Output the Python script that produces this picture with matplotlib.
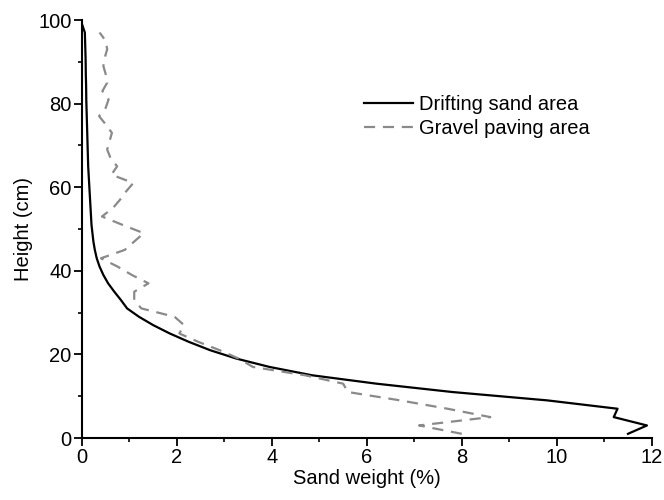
import matplotlib
matplotlib.use("Agg")
import matplotlib.pyplot as plt
from matplotlib.ticker import MultipleLocator

plt.rcParams['font.family'] = ['Liberation Sans', 'DejaVu Sans']

# heights (cm)
drift_height = [1, 3, 5, 7, 9, 11, 13, 15, 17, 19, 21, 23, 25, 27, 29, 31, 33, 35,
                37, 39, 41, 43, 45, 47, 49, 51, 53, 55, 57, 59, 61, 63, 65, 67, 69,
                71, 73, 75, 77, 79, 81, 83, 85, 87, 89, 91, 93, 95, 97, 99]
drift_weight = [11.5, 11.9, 11.2, 11.28, 9.8, 7.8, 6.2, 4.85, 3.95, 3.25, 2.7, 2.25,
                1.85, 1.5, 1.2, 0.95, 0.82, 0.68, 0.55, 0.45, 0.37, 0.31, 0.27, 0.24,
                0.22, 0.2, 0.19, 0.18, 0.17, 0.16, 0.15, 0.14, 0.13, 0.125, 0.12,
                0.115, 0.11, 0.105, 0.1, 0.095, 0.09, 0.088, 0.085, 0.08, 0.078,
                0.075, 0.07, 0.065, 0.06, 0.0]

gravel_height = [1, 3, 5, 7, 9, 11, 13, 15, 17, 19, 21, 23, 25, 27, 29, 31, 33, 35,
                 37, 39, 41, 43, 45, 47, 49, 51, 53, 55, 57, 59, 61, 63, 65, 67, 69,
                 71, 73, 75, 77, 79, 81, 83, 85, 87, 89, 91, 93, 95, 97]
gravel_weight = [8.0, 7.1, 8.6, 7.7, 6.7, 5.6, 5.5, 4.7, 3.6, 3.3, 2.9, 2.45, 2.05,
                 2.15, 1.95, 1.25, 1.1, 1.1, 1.4, 1.05, 0.75, 0.4, 0.9, 1.1, 1.3,
                 0.85, 0.42, 0.65, 0.8, 0.93, 1.08, 0.62, 0.74, 0.6, 0.53, 0.58, 0.63,
                 0.5, 0.36, 0.5, 0.56, 0.43, 0.53, 0.5, 0.45, 0.48, 0.53, 0.5, 0.37]

fig = plt.figure(figsize=(6.64, 5.0), dpi=100)
ax = fig.add_axes([0.1235, 0.124, 0.858, 0.836])

ax.plot(drift_weight, drift_height, color='black', linewidth=1.6, label='Drifting sand area')
ax.plot(gravel_weight, gravel_height, color='#8a8a8a', linewidth=1.6,
        linestyle=(0, (5, 3.5)), label='Gravel paving area')

ax.set_xlim(0, 12)
ax.set_ylim(0, 100)
ax.xaxis.set_major_locator(MultipleLocator(2))
ax.xaxis.set_minor_locator(MultipleLocator(1))
ax.yaxis.set_major_locator(MultipleLocator(20))
ax.yaxis.set_minor_locator(MultipleLocator(10))

for side in ['top', 'right']:
    ax.spines[side].set_visible(False)
for side in ['left', 'bottom']:
    ax.spines[side].set_linewidth(1.5)

ax.tick_params(which='major', direction='out', length=5.5, width=1.3, labelsize=14.5, pad=2)
ax.tick_params(which='minor', direction='out', length=3, width=1.2)

ax.set_xlabel('Sand weight (%)', fontsize=14.5, labelpad=1)
ax.set_ylabel('Height (cm)', fontsize=14.5, labelpad=4)

ax.legend(loc='upper left', bbox_to_anchor=(0.464, 0.865), frameon=False, fontsize=14.5,
          handlelength=2.4, handletextpad=0.3, labelspacing=0.25)

fig.savefig('out.png', dpi=100)
